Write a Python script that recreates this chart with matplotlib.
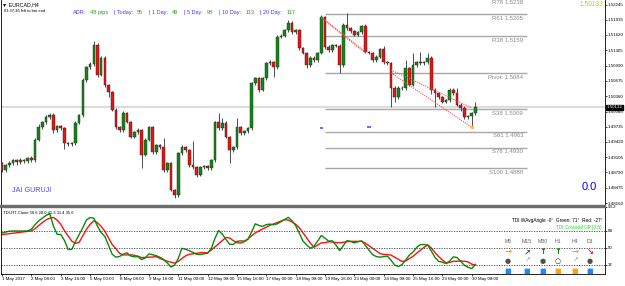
import matplotlib
matplotlib.use("Agg")
import matplotlib.pyplot as plt
import numpy as np

plt.rcParams['font.family'] = ['Liberation Sans', 'DejaVu Sans']

# Datos de las velas EURCAD H4 --------------------------------------------------------------------------------
primer_open = 1.4898
cierres = [1.4884, 1.4894, 1.4898, 1.4904, 1.4900, 1.4904, 1.4902, 1.4908, 1.4904, 1.4946,
           1.4972, 1.4983, 1.4993, 1.4997, 1.4966, 1.4974, 1.4970, 1.4939, 1.4937, 1.4939,
           1.4981, 1.4997, 1.5069, 1.5096, 1.5102, 1.5141, 1.5080, 1.5115, 1.5059, 1.5044,
           1.5008, 1.4972, 1.4966, 1.5001, 1.4983, 1.4952, 1.4962, 1.4966, 1.4915, 1.4946,
           1.4972, 1.4921, 1.4935, 1.4931, 1.4884, 1.4898, 1.4843, 1.4832, 1.4919, 1.4931,
           1.4925, 1.4894, 1.4890, 1.4874, 1.4890, 1.4892, 1.4888, 1.4904, 1.4983, 1.4970,
           1.4981, 1.4952, 1.4925, 1.4931, 1.4972, 1.4960, 1.4964, 1.4970, 1.5063, 1.5073,
           1.5049, 1.5073, 1.5104, 1.5106, 1.5096, 1.5158, 1.5160, 1.5172, 1.5187, 1.5168,
           1.5172, 1.5135, 1.5125, 1.5100, 1.5115, 1.5110, 1.5125, 1.5199, 1.5137, 1.5131,
           1.5141, 1.5140, 1.5100, 1.5183, 1.5176, 1.5170, 1.5162, 1.5168, 1.5180, 1.5127,
           1.5125, 1.5110, 1.5117, 1.5133, 1.5106, 1.5104, 1.5053, 1.5034, 1.5053, 1.5052,
           1.5094, 1.5059, 1.5100, 1.5106, 1.5104, 1.5106, 1.5115, 1.5049, 1.5042, 1.5034,
           1.5024, 1.5028, 1.5049, 1.5042, 1.5018, 1.5012, 1.4993, 1.4995, 1.5001, 1.50132]

# mechas en pips
mecha_arriba = [3, 3, 4, 3, 3, 5, 3, 3, 4, 4,
                6, 3, 4, 5, 4, 3, 3, 3, 3, 3,
                3, 3, 4, 3, 4, 8, 4, 3, 3, 3,
                3, 3, 3, 4, 3, 3, 3, 4, 3, 3,
                3, 3, 3, 3, 20, 3, 3, 3, 3, 4,
                3, 3, 50, 3, 3, 3, 3, 3, 3, 18,
                10, 3, 3, 3, 20, 3, 3, 3, 3, 3,
                3, 3, 3, 4, 3, 4, 3, 3, 5, 3,
                3, 3, 3, 3, 3, 3, 3, 4, 3, 4,
                3, 3, 3, 4, 25, 3, 3, 3, 3, 4,
                3, 3, 3, 3, 6, 3, 3, 3, 3, 3,
                16, 3, 24, 3, 20, 3, 10, 3, 3, 3,
                3, 3, 4, 3, 10, 3, 3, 3, 3, 10]
mecha_abajo = [4, 3, 3, 4, 6, 3, 3, 3, 3, 4,
               3, 3, 4, 3, 5, 3, 4, 12, 3, 3,
               3, 3, 3, 3, 3, 3, 4, 3, 5, 10,
               3, 4, 3, 3, 3, 3, 3, 3, 27, 3,
               3, 4, 3, 3, 3, 3, 3, 6, 3, 3,
               3, 3, 3, 4, 3, 3, 3, 3, 3, 3,
               3, 3, 26, 3, 3, 3, 3, 3, 3, 3,
               4, 3, 3, 3, 20, 3, 3, 3, 3, 3,
               3, 4, 3, 6, 3, 3, 3, 3, 3, 3,
               3, 3, 16, 3, 3, 3, 3, 3, 3, 3,
               3, 3, 3, 3, 3, 3, 40, 10, 3, 3,
               3, 3, 3, 3, 3, 3, 3, 8, 28, 3,
               3, 3, 3, 3, 3, 6, 3, 3, 22, 3]

# Indicador TDI ------------------------
tdi_verde = [65.7, 66.6, 67.5, 67.7, 67.7, 67.7, 67.7, 67.7, 69.6, 74.5,
             78.6, 81.5, 84.3, 86.0, 72.8, 64.2, 64.0, 57.6, 48.1, 48.1,
             56.6, 63.9, 71.3, 79.5, 82.0, 81.3, 72.7, 66.0, 62.0, 52.4,
             43.0, 39.9, 40.6, 43.0, 44.5, 41.2, 40.2, 40.5, 37.3, 39.0,
             43.4, 42.5, 41.5, 39.8, 37.4, 33.8, 29.5, 31.3, 38.5, 49.3,
             48.3, 46.8, 45.0, 42.9, 42.7, 43.4, 44.1, 49.0, 59.8, 68.2,
             64.4, 58.8, 53.6, 53.4, 56.7, 57.2, 56.9, 58.8, 66.9, 75.3,
             73.6, 72.5, 74.5, 75.0, 74.3, 75.4, 77.6, 80.0, 82.2, 78.6,
             73.4, 65.4, 57.0, 53.0, 49.3, 51.6, 57.0, 62.9, 60.0, 56.9,
             57.3, 52.7, 46.9, 52.3, 57.5, 56.5, 55.1, 56.3, 57.2, 52.5,
             47.3, 42.5, 40.5, 39.9, 40.5, 41.0, 36.6, 31.4, 30.0, 32.1,
             36.9, 42.2, 45.3, 50.4, 53.3, 53.3, 52.6, 46.2, 39.5, 35.4,
             34.5, 33.0, 36.0, 40.3, 39.4, 35.3, 31.2, 29.1, 27.7, 32.3]
tdi_rojo = [63.9, 64.4, 64.9, 65.4, 65.9, 66.4, 66.9, 67.3, 67.8, 70.2,
            73.6, 76.8, 79.6, 81.3, 82.1, 79.2, 74.9, 67.9, 62.4, 56.9,
            54.5, 55.7, 62.8, 69.7, 74.8, 78.6, 76.5, 72.5, 67.5, 60.3,
            53.3, 48.8, 44.0, 42.3, 42.3, 42.3, 41.9, 41.0, 39.4, 39.6,
            39.9, 40.1, 40.4, 38.6, 37.0, 35.5, 34.6, 33.5, 35.3, 38.5,
            41.3, 42.9, 43.4, 44.0, 44.6, 44.6, 44.6, 47.4, 50.8, 54.1,
            57.5, 60.8, 60.3, 57.5, 55.2, 54.9, 56.3, 59.5, 62.6, 65.7,
            67.9, 69.8, 71.8, 73.8, 75.3, 76.8, 78.2, 79.7, 79.3, 77.3,
            74.9, 71.1, 65.7, 60.4, 54.9, 50.3, 52.8, 55.1, 55.3, 56.3,
            56.0, 55.4, 55.1, 55.7, 56.5, 56.7, 56.7, 56.7, 56.7, 54.8,
            52.0, 49.2, 46.4, 43.7, 42.8, 42.6, 42.1, 39.8, 37.6, 35.3,
            35.9, 38.4, 40.9, 44.2, 47.3, 50.4, 53.0, 49.5, 44.6, 40.4,
            36.9, 33.8, 34.3, 35.5, 35.6, 35.9, 35.5, 34.9, 32.4, 31.6]

# niveles fibo / pivot
fibo_nombres = ["R78", "R61", "R38", "Pivot:", "S38", "S61", "S78", "S100"]
fibo_niveles = [1.5238, 1.5205, 1.5159, 1.5084, 1.5009, 1.4963, 1.4930, 1.4888]
fibo_inicio = 88
fibo_fin = 143

# lineas rojas punteadas (barra, precio)
tend_barras = [[87, 99], [106, 128], [106, 128]]
tend_precios = [[1.5199, 1.5127], [1.5090, 1.5012], [1.5084, 1.4972]]
marcas_azules_barras = [87, 100]
marcas_azules_precios = [1.4970, 1.4972]

precio_bid = 1.50132
precio_ticks = [1.52245, 1.51935, 1.51620, 1.51305, 1.50990, 1.50675, 1.50360,
                1.50045, 1.49735, 1.49420, 1.49105, 1.48790, 1.48475, 1.48160]
fechas = ["1 May 2017", "2 May 08:00", "3 May 16:00", "5 May 00:00", "8 May 08:00",
          "9 May 16:00", "11 May 00:00", "12 May 08:00", "15 May 16:00", "17 May 00:00",
          "18 May 08:00", "19 May 16:00", "23 May 00:00", "24 May 08:00", "25 May 16:00",
          "29 May 00:00", "30 May 08:00"]
fechas_barras = list(range(0, 129, 8))
ind_ticks = [93.2, 68, 50, 32]
ind_niveles = [68, 50, 32]

adr_nombres = ["ADR:", "| Today:", "| 1 Day:", "| 5 Day:", "| 10 Day:", "| 20 Day:"]
adr_valores = ["48 pips", "55", "49", "98", "113", "117"]

W, H = 625, 286
fig = plt.figure(figsize=(W / 100, H / 100), dpi=100)
rend = fig.canvas.get_renderer()

def fx(px):
    return px / W

def fy(py):
    return 1 - py / H

# Grafico principal --------------------------------------------------------------------------------
ax1 = fig.add_axes([fx(1), fy(205), fx(604), 205 / H])
x = np.arange(len(cierres))
c = np.array(cierres)
o = np.array([primer_open] + cierres[:-1])
hi = np.maximum(o, c) + np.array(mecha_arriba) * 0.0001
lo = np.minimum(o, c) - np.array(mecha_abajo) * 0.0001

ax1.axhline(precio_bid, color="#dcdcdc", lw=1.6, zorder=0)
ax1.vlines(x, lo, hi, color="#303030", lw=0.6, zorder=2)
colores = np.where(c >= o, "#12881a", "#e81414")
alto = np.maximum(np.abs(c - o), 0.00007)
ax1.bar(x, alto, bottom=np.minimum(o, c), width=0.72, color=colores,
        edgecolor="#202020", linewidth=0.3, zorder=3)

# niveles fibo
for nom, niv in zip(fibo_nombres, fibo_niveles):
    ax1.hlines(niv, fibo_inicio, fibo_fin, color="#a8a8a8", lw=1.0, zorder=1)
    ax1.annotate(nom + " " + "%.4f" % niv, (fibo_fin - 1, niv), xytext=(0, -3),
                 textcoords="offset points", ha="right", va="center",
                 fontsize=4.3, color="#8c8c8c", annotation_clip=False)

# lineas de tendencia
for tb, tp in zip(tend_barras, tend_precios):
    ax1.plot(tb, tp, color="#ff5050", lw=0.8, ls=(0, (1, 1)), zorder=4)
ax1.plot(tend_barras[0], np.array(tend_precios[0]) - 0.0002, color="#ff5050", lw=0.8,
         ls=(0, (1, 1)), zorder=4)
ax1.plot(tend_barras[2][1], tend_precios[2][1], "s", ms=2, color="#ffc040", zorder=5)
ax1.hlines(marcas_azules_precios, np.array(marcas_azules_barras) - 0.5,
           np.array(marcas_azules_barras) + 0.5, color="#5050ff", lw=1.2)

ax1.set_xlim(-0.3, 164.3)
ax1.set_ylim(1.48121, 1.5234)
ax1.set_xticks([])
ax1.yaxis.tick_right()
ax1.set_yticks(precio_ticks)
ax1.set_yticklabels(["%.5f" % p for p in precio_ticks])
ax1.tick_params(axis="y", labelsize=3.2, length=1.5, pad=0.6, width=0.5)
for s in ax1.spines.values():
    s.set_linewidth(0.6)
ax1.spines["top"].set_visible(False)
ax1.spines["bottom"].set_visible(False)

ax1.text(1.003, precio_bid, "%.5f" % precio_bid, transform=ax1.get_yaxis_transform(),
         fontsize=3.2, color="white", va="center", ha="left",
         bbox=dict(boxstyle="square,pad=0.12", fc="black", ec="black"))

# textos del grafico principal
fig.text(fx(2), fy(4.5), "\u25bc EURCAD,H4", fontsize=3.8, va="center")
fig.text(fx(4), fy(11), "03:37:36 left to bar end", fontsize=2.9, va="center")
pos = 73
for nom, val in zip(adr_nombres, adr_valores):
    t = fig.text(fx(pos), fy(12.3), nom, fontsize=4.0, color="#3c3cff", va="center")
    pos += t.get_window_extent(rend).width + 4
    t = fig.text(fx(pos), fy(12.3), val, fontsize=4.0, color="#20a020", va="center")
    pos += t.get_window_extent(rend).width + 6
fig.text(fx(603), fy(5), "1.50133", fontsize=4.8, color="#9cdc20", va="center", ha="right")
fig.text(fx(589), fy(187), "0.0", fontsize=8, color="#0000ff", va="center", ha="center")
fig.text(fx(12), fy(190), "JAI GURUJI", fontsize=5.2, color="#4848ff", va="center")

# separador de ventanas
fig.add_artist(plt.Rectangle((fx(0), fy(207)), fx(605), 2.5 / H, transform=fig.transFigure,
                             color="#6c6c6c"))

# Indicador TDI --------------------------------------------------------------------------------
ax2 = fig.add_axes([fx(1), fy(274), fx(604), (274 - 207) / H])
ax2.plot(x, tdi_rojo, color="#ff1010", lw=1.0)
ax2.plot(x, tdi_verde, color="#0a8a0a", lw=1.0)
for n in ind_niveles:
    ax2.axhline(n, color="#404040", lw=0.6, ls=(0, (1.5, 1.5)))
ax2.set_xlim(-0.3, 164.3)
ax2.set_ylim(22, 93.2)
ax2.yaxis.tick_right()
ax2.set_yticks(ind_ticks)
ax2.set_yticklabels(["93.2", "68", "50", "32"])
ax2.set_xticks(fechas_barras)
ax2.set_xticklabels(fechas, ha="left")
ax2.tick_params(axis="both", labelsize=3.2, length=1.5, pad=0.6, width=0.5)
for s in ax2.spines.values():
    s.set_linewidth(0.6)
ax2.spines["top"].set_visible(False)

fig.text(fx(3), fy(213), "TDI-RT-Clone 56.6 28.0 41.3 31.4 35.6", fontsize=3.0, va="center")
fig.text(fx(602), fy(220.5), "TDI WAvgAngle -0\u00b0  Green: 71\u00b0  Red: -27\u00b0",
         fontsize=3.4, va="center", ha="right")
fig.text(fx(602), fy(227.7), "TDI Crossed UP [3.5]", fontsize=3.4, va="center", ha="right",
         color="#28d828")

# panel de marcos temporales
marcos = ["M5", "M15", "M30", "H1", "H4", "D1"]
marcos_x = [508, 527, 543, 558, 575, 590]
flechas = ["\u2192", "\u2197", "\u2191", "\u2191", "\u2192", "\u2198"]
flechas_col = ["#ff9a10", "#0a8a0a", "#0a8a0a", "#0a8a0a", "#ff9a10", "#ff1010"]
puntos = ["\u25cf", "\u2197", "\u25cf", "\u25cb", "\u2197", "\u25cf"]
puntos_col = ["#505050", "#b4b4b4", "#505050", "#303030", "#b4b4b4", "#505050"]
cuadros_col = ["#1e88ff", "#1e88ff", "#1e88ff", "#ffa010", "#ffa010", "#1e88ff"]
for i in range(len(marcos)):
    px = marcos_x[i]
    fig.text(fx(px), fy(241.7), marcos[i], fontsize=3.8, color="#606060", ha="center", va="center")
    fig.text(fx(px), fy(251.7), flechas[i], fontsize=6, color=flechas_col[i], ha="center",
             va="center", fontweight="bold", family="DejaVu Sans")
    fig.text(fx(px), fy(261), puntos[i], fontsize=5, color=puntos_col[i], ha="center",
             va="center", fontweight="bold", family="DejaVu Sans")
    fig.text(fx(px), fy(271.5), "\u25a0", fontsize=5, color=cuadros_col[i], ha="center",
             va="center", family="DejaVu Sans")

plt.savefig("out.png", dpi=100)
